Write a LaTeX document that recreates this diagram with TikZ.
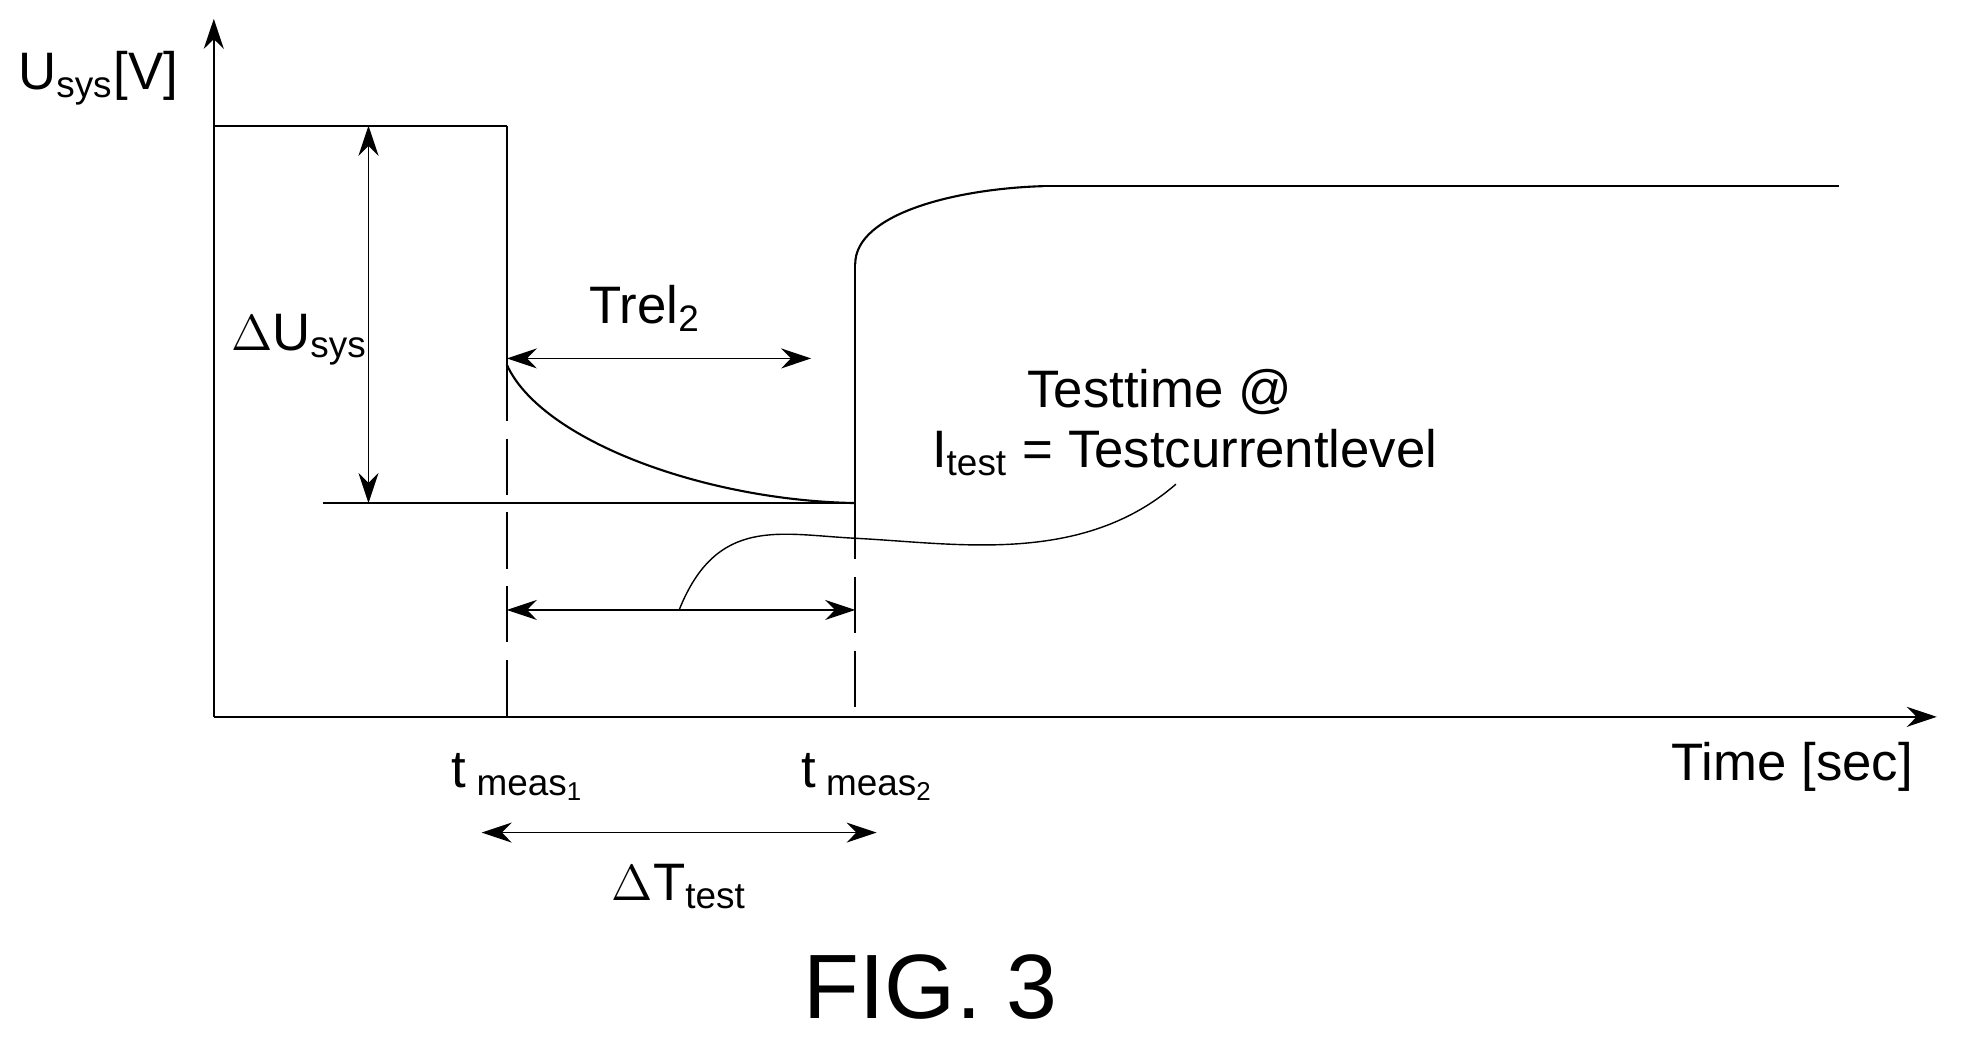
\documentclass[tikz,border=0pt]{standalone}
\usepackage{fontspec}
\setmainfont{Liberation Sans}
\usepackage{tikz}
\usepackage{xcolor}
\usetikzlibrary{arrows.meta}

\begin{document}
\begin{tikzpicture}[>=stealth, x=0.012577cm, y=-0.012577cm, semithick,
		lbl/.style={inner sep=0pt, font=\fontsize{15}{18}\selectfont},
		dim/.style={<->, thin, >={Stealth[length=3mm, width=2mm]}}]
		\useasboundingbox (0, 0) rectangle (1568, 825);
		\node (0) at (170, 570) {};
		\node (1) at (170, 15) {};
		\node (2) at (1540, 570) {};
		\node (3) at (170, 100) {};
		\node (4) at (403, 100) {};
		\node (5) at (403, 290) {};
		\node (6) at (403, 570) {};
		\node (7) at (680, 400) {};
		\node (8) at (680, 570) {};
		\node (9) at (680, 210) {};
		\node (10) at (830, 148) {};
		\node (11) at (1462, 148) {};
		\node (12) at (257, 400) {};
		\node (13) at (293, 100) {};
		\node (14) at (293, 400) {};
		\node (15) at (645, 285) {};
		\node (16) at (403, 485) {};
		\node (17) at (680, 485) {};
		\node (18) at (540, 485) {};
		\node (19) at (935, 385) {};
		\node (20) at (383, 662) {};
		\node (21) at (697, 662) {};
		\draw [->, >={Stealth[length=3mm, width=2mm]}] (0.center) to (1.center);
		\draw [->, >={Stealth[length=3mm, width=2mm]}] (0.center) to (2.center);
		\draw (0.center) to (3.center);
		\draw (3.center) to (4.center);
		\draw (4.center) to (5.center);
		\draw (5.center) .. controls (430, 350) and (560, 398) .. (7.center);
		\draw [dash pattern=on 16pt off 5pt] (5.center) to (6.center);
		\draw [dash pattern=on 16pt off 5pt] (7.center) to (8.center);
		\draw (7.center) to (9.center);
		\draw (9.center) .. controls (680, 170) and (760, 150) .. (10.center);
		\draw (10.center) to (11.center);
		\draw [thin] (12.center) to (7.center);
		\draw [dim] (5.center |- 15.center) to (15.center);
		\draw [dim] (13.center) to (14.center);
		\draw [dim] (16.center) to (17.center);
		\draw [thin] (18.center) .. controls (570, 410) and (620, 425) .. (680, 428)
			.. controls (760, 432) and (860, 450) .. (19.center);
		\draw [dim] (20.center) to (21.center);
		\node [lbl] (22) at (78, 62) {U\textsubscript{sys}[V]};
		\node [lbl] (23) at (238, 270) {$\Delta$U\textsubscript{sys}};
		\node [lbl] (24) at (513, 245) {Trel\textsubscript{2}};
		\node [lbl] (25) at (922, 312) {Testtime @};
		\node [lbl] (26) at (942, 360) {I\textsubscript{test} = Testcurrentlevel};
		\node [lbl] (27) at (412, 618) {t\textsubscript{ meas\textsubscript{1}}};
		\node [lbl] (28) at (690, 618) {t\textsubscript{ meas\textsubscript{2}}};
		\node [lbl] (29) at (540, 705) {$\Delta$T\textsubscript{test}};
		\node [lbl] (30) at (1425, 610) {Time [sec]};
		\node [inner sep=0pt, font=\fontsize{26}{30}\selectfont] (31) at (740, 785) {FIG. 3};
\end{tikzpicture}
\end{document}
